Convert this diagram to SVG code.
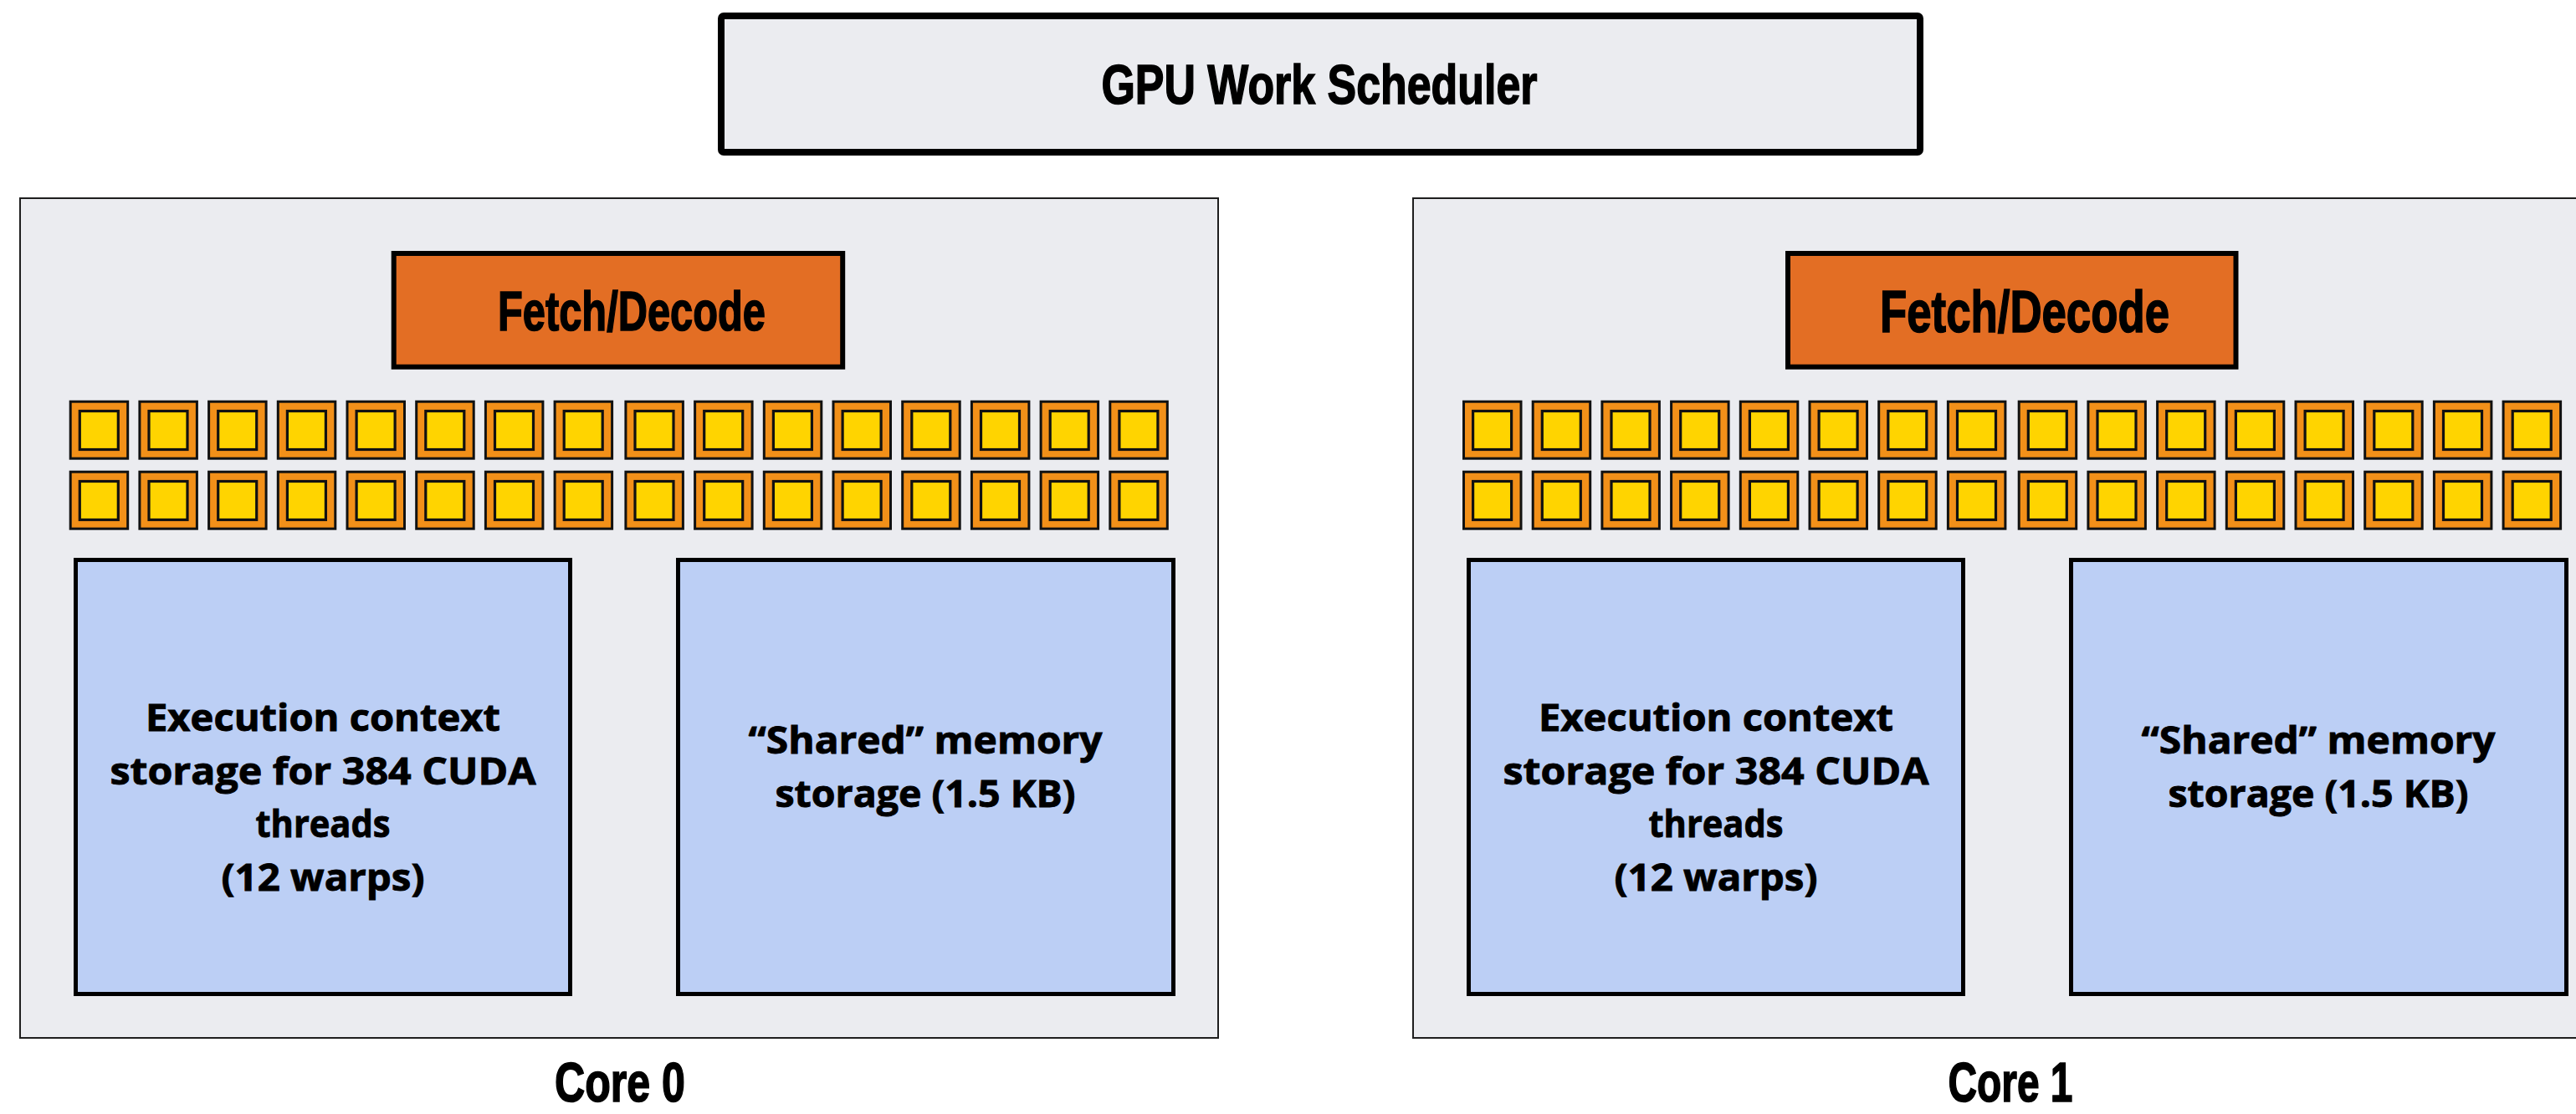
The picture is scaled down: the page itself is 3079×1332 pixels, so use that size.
<svg xmlns="http://www.w3.org/2000/svg" xmlns:xlink="http://www.w3.org/1999/xlink" width="3079" height="1332" viewBox="0 0 3079 1332">
<style>
.core{fill:#EBECF0;stroke:#1E1E1E;stroke-width:2}
.sched{fill:#EBECF0;stroke:#000;stroke-width:8}
.fd{fill:#E36E24;stroke:#000;stroke-width:6}
.mem{fill:#BCCFF5;stroke:#000;stroke-width:5}
.aluo{fill:#F29019;stroke:#111;stroke-width:3}
.alui{fill:#FFD400;stroke:#111;stroke-width:3.2}
.title{font-family:"Liberation Sans",Arial,sans-serif;font-weight:700;fill:#000;stroke:#000;stroke-width:1.6}
.body{font-family:"Open Sans","Liberation Sans",Arial,sans-serif;font-weight:700;font-size:44px;fill:#000;stroke:#000;stroke-width:0.9;text-anchor:middle}
</style>
<defs>
<g id="alu"><rect class="aluo" x="1.5" y="1.5" width="68.5" height="68"/><rect class="alui" x="12.6" y="12.8" width="46" height="46"/></g>
<g id="alu8">
<use href="#alu" x="0"/><use href="#alu" x="82.7"/><use href="#alu" x="165.4"/><use href="#alu" x="248.1"/>
<use href="#alu" x="330.8"/><use href="#alu" x="413.5"/><use href="#alu" x="496.2"/><use href="#alu" x="578.9"/>
</g>
</defs>
<rect x="0" y="0" width="3079" height="1332" fill="#FFFFFF"/>

<g id="gpu-work-scheduler">
<rect class="sched" x="862" y="19" width="1433" height="163" rx="3"/>
<text class="title" x="1577" y="124" font-size="67" text-anchor="middle" textLength="521" lengthAdjust="spacingAndGlyphs">GPU Work Scheduler</text>
</g>

<g id="core0">
<rect class="core" x="24" y="237" width="1432" height="1004"/>
</g>
<g id="core1">
<rect class="core" x="1689" y="237" width="1432" height="1004"/>
</g>

<g id="core0-fetch-decode">
<rect class="fd" x="470.7" y="303" width="536.5" height="135.7"/>
<text class="title" x="595" y="395" font-size="66" textLength="320" lengthAdjust="spacingAndGlyphs">Fetch/Decode</text>
</g>
<g id="core1-fetch-decode">
<rect class="fd" x="2137" y="303" width="535.5" height="135.7"/>
<text class="title" x="2247" y="397" font-size="70" textLength="346" lengthAdjust="spacingAndGlyphs">Fetch/Decode</text>
</g>

<g id="core0-alus">
<use href="#alu8" x="82.7" y="478.7"/><use href="#alu8" x="746.4" y="478.7"/>
<use href="#alu8" x="82.7" y="562.7"/><use href="#alu8" x="746.4" y="562.7"/>
</g>
<g id="core1-alus">
<use href="#alu8" x="1748" y="478.7"/><use href="#alu8" x="2411.7" y="478.7"/>
<use href="#alu8" x="1748" y="562.7"/><use href="#alu8" x="2411.7" y="562.7"/>
</g>

<g id="core0-exec-context">
<rect class="mem" x="90.5" y="669.5" width="591" height="519"/>
<text class="body" x="386" y="874" textLength="424" lengthAdjust="spacingAndGlyphs">Execution context</text>
<text class="body" x="386" y="938" textLength="509" lengthAdjust="spacingAndGlyphs">storage for 384 CUDA</text>
<text class="body" x="386" y="1001" textLength="161" lengthAdjust="spacingAndGlyphs">threads</text>
<text class="body" x="386" y="1065" textLength="243" lengthAdjust="spacingAndGlyphs">(12 warps)</text>
</g>
<g id="core0-shared-memory">
<rect class="mem" x="810.5" y="669.5" width="592" height="519"/>
<text class="body" x="1106" y="901" textLength="423" lengthAdjust="spacingAndGlyphs">&#8220;Shared&#8221; memory</text>
<text class="body" x="1106" y="965" textLength="359" lengthAdjust="spacingAndGlyphs">storage (1.5 KB)</text>
</g>

<g id="core1-exec-context">
<rect class="mem" x="1755.5" y="669.5" width="591" height="519"/>
<text class="body" x="2051" y="874" textLength="424" lengthAdjust="spacingAndGlyphs">Execution context</text>
<text class="body" x="2051" y="938" textLength="509" lengthAdjust="spacingAndGlyphs">storage for 384 CUDA</text>
<text class="body" x="2051" y="1001" textLength="161" lengthAdjust="spacingAndGlyphs">threads</text>
<text class="body" x="2051" y="1065" textLength="243" lengthAdjust="spacingAndGlyphs">(12 warps)</text>
</g>
<g id="core1-shared-memory">
<rect class="mem" x="2475.5" y="669.5" width="592" height="519"/>
<text class="body" x="2771" y="901" textLength="423" lengthAdjust="spacingAndGlyphs">&#8220;Shared&#8221; memory</text>
<text class="body" x="2771" y="965" textLength="359" lengthAdjust="spacingAndGlyphs">storage (1.5 KB)</text>
</g>

<g id="core0-label">
<text class="title" x="741" y="1317" font-size="66" text-anchor="middle" textLength="156" lengthAdjust="spacingAndGlyphs">Core 0</text>
</g>
<g id="core1-label">
<text class="title" x="2403" y="1317" font-size="66" text-anchor="middle" textLength="149" lengthAdjust="spacingAndGlyphs">Core 1</text>
</g>

<g id="connectors"></g>
</svg>
